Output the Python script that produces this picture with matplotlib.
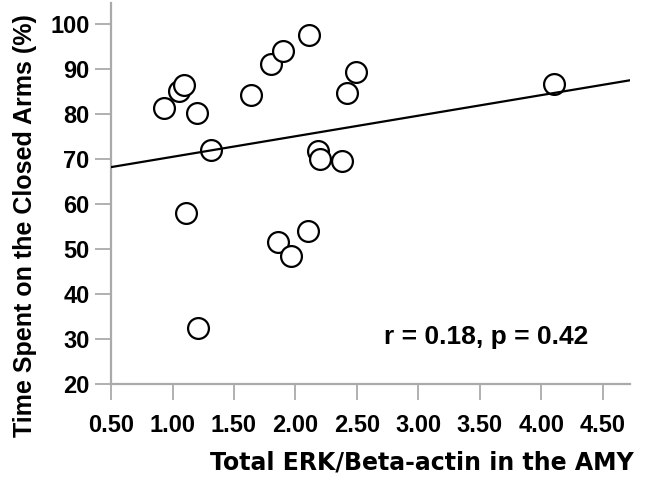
import matplotlib
matplotlib.use("Agg")
import matplotlib.pyplot as plt

# values
erk = [0.93, 1.05, 1.09, 1.20, 1.31, 1.11, 1.64, 1.80, 1.90, 2.11,
       2.49, 2.42, 2.18, 2.20, 2.38, 2.10, 1.86, 1.96, 1.21, 4.10]
closed_arms = [81.3, 85.1, 86.4, 80.2, 72.0, 58.0, 84.2, 91.1, 94.0, 97.6,
               89.3, 84.7, 71.8, 70.0, 69.6, 54.0, 51.6, 48.4, 32.4, 86.7]

# regression line ends
fit_x = [0.50, 4.72]
fit_y = [68.2, 87.5]

xticks = [0.5, 1.0, 1.5, 2.0, 2.5, 3.0, 3.5, 4.0, 4.5]
xtick_labels = ["0.50", "1.00", "1.50", "2.00", "2.50", "3.00", "3.50", "4.00", "4.50"]
yticks = [20, 30, 40, 50, 60, 70, 80, 90, 100]
stats_text = "r = 0.18, p = 0.42"

plt.rcParams['font.family'] = ['Liberation Sans', 'DejaVu Sans']

fig = plt.figure(figsize=(6.55, 4.80), dpi=100)
ax = fig.add_axes([0.1695, 0.20, 0.7923, 0.794])

ax.plot(erk, closed_arms, 'o', ms=15, mfc='white', mec='black', mew=1.6, zorder=2)
ax.plot(fit_x, fit_y, '-', color='black', lw=1.6, zorder=3)

ax.set_xlim(0.5, 4.72)
ax.set_ylim(20, 104.7)

for s in ['top', 'right']:
    ax.spines[s].set_visible(False)
for s in ['left', 'bottom']:
    ax.spines[s].set_color('#aaaaaa')
    ax.spines[s].set_linewidth(1.6)

ax.set_xticks(xticks)
ax.set_xticklabels(xtick_labels)
ax.set_yticks(yticks)
ax.tick_params(axis='both', colors='#b0b0b0', length=11.5, width=1.4, labelcolor='black', labelsize=17)
ax.tick_params(axis='x', pad=10)
ax.tick_params(axis='y', pad=4)
for lab in ax.get_xticklabels() + ax.get_yticklabels():
    lab.set_fontweight('bold')

ax.text(3.55, 30.4, stats_text, ha='center', va='center', fontsize=19, fontweight='bold')

fig.text(25 / 655, 1 - 226 / 480, "Time Spent on the Closed Arms (%)", rotation=90,
         ha='center', va='center', fontsize=18, fontweight='bold')
fig.text(422 / 655, 1 - 463 / 480, "Total ERK/Beta-actin in the AMY",
         ha='center', va='center', fontsize=17, fontweight='bold', family='DejaVu Sans')

fig.savefig("out.png", dpi=100)
